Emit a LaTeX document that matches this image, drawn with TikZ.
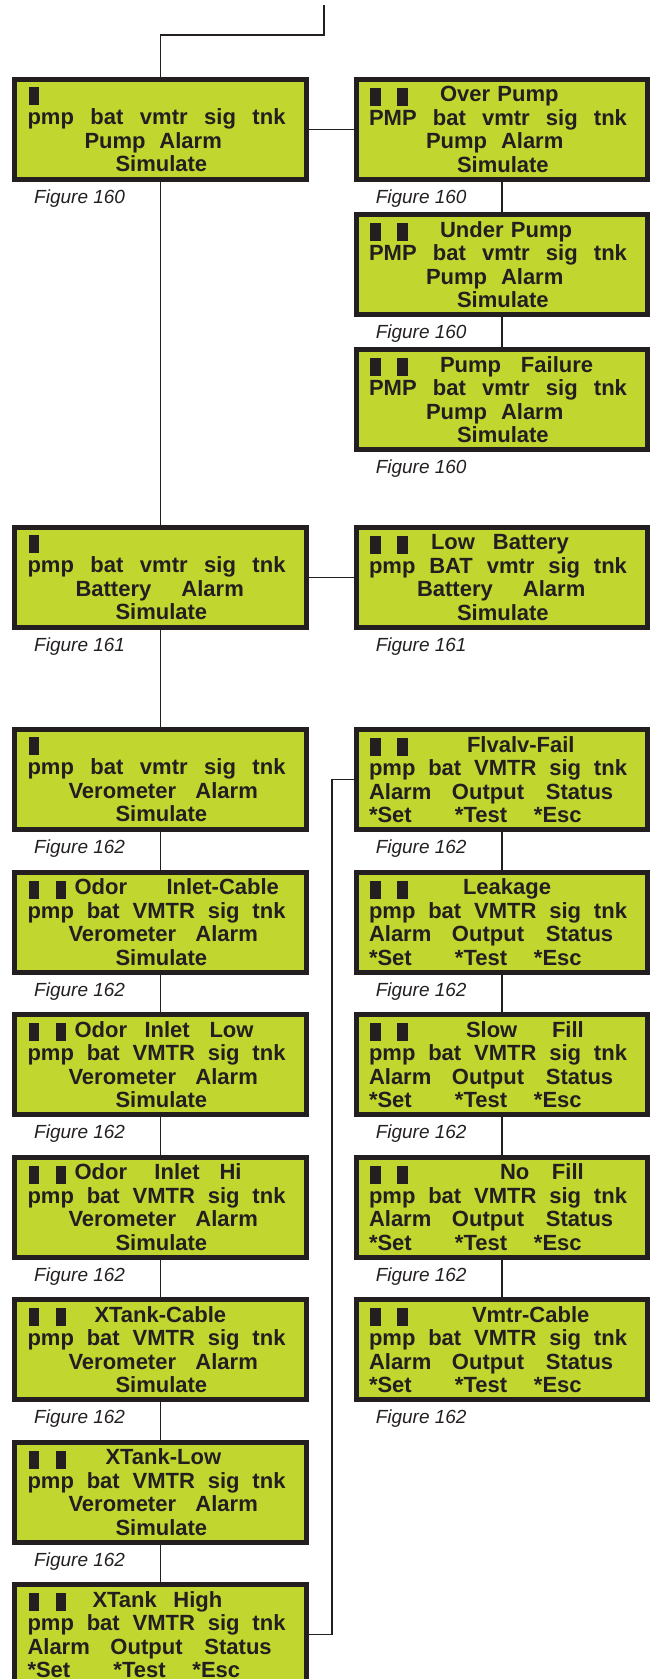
\documentclass[tikz,border=0pt]{standalone}
\usepackage{fontspec}
\setmainfont{Liberation Sans}
\usepackage{xcolor}
\usepackage{tikz}
\usetikzlibrary{positioning,calc}
\setlength{\parindent}{0pt}
\definecolor{lcdgreen}{RGB}{193,215,47}
\definecolor{lcdink}{RGB}{35,31,32}
\newcommand{\lcdpos}[2]{\makebox[0pt][l]{\hspace*{#1pt}#2}}
\newcommand{\lcdblk}{\rule[-4pt]{10.5pt}{18pt}}
\newcommand{\lcdcur}{\lcdpos{1}{\lcdblk}\lcdpos{28}{\lcdblk}}
\newcommand{\lcdrow}[5]{\makebox[258pt][s]{#1\hfill#2\hfill#3\hfill#4\hfill#5}}
\tikzset{
  lcd/.style={draw=lcdink, line width=5pt, fill=lcdgreen, text=lcdink, align=left, text width=266pt, inner xsep=12.75pt, inner ysep=2pt, minimum width=291.5pt, minimum height=100pt, font=\bfseries\fontsize{22}{23.5}\selectfont},
  figlbl/.style={inner sep=0pt, outer sep=0pt, text=lcdink, font=\itshape\fontsize{19}{22}\selectfont},
  wire/.style={draw=lcdink, line width=1.8pt},
}
\begin{document}
\begin{tikzpicture}[x=1pt,y=1pt]
  \useasboundingbox (0,0) rectangle (649,-1679);
  \coordinate (in) at (324,-5);
  % pump
  \node[lcd] (pa) at (160.5,-129.5) {\lcdpos{1}{\lcdblk}\\ \lcdrow{pmp}{bat}{vmtr}{sig}{tnk}\\ \lcdpos{57}{Pump}\lcdpos{132}{Alarm}\\ \lcdpos{88}{Simulate}};
  \node[lcd, right=45pt of pa] (op) {\lcdcur\lcdpos{71}{Over Pump}\\ \lcdrow{PMP}{bat}{vmtr}{sig}{tnk}\\ \lcdpos{57}{Pump}\lcdpos{132}{Alarm}\\ \lcdpos{88}{Simulate}};
  \node[lcd, below=30pt of op] (up) {\lcdcur\lcdpos{71}{Under Pump}\\ \lcdrow{PMP}{bat}{vmtr}{sig}{tnk}\\ \lcdpos{57}{Pump}\lcdpos{132}{Alarm}\\ \lcdpos{88}{Simulate}};
  \node[lcd, below=30pt of up] (pf) {\lcdcur\lcdpos{71}{Pump}\lcdpos{152}{Failure}\\ \lcdrow{PMP}{bat}{vmtr}{sig}{tnk}\\ \lcdpos{57}{Pump}\lcdpos{132}{Alarm}\\ \lcdpos{88}{Simulate}};
  % battery
  \node[lcd, below=343pt of pa] (ba) {\lcdpos{1}{\lcdblk}\\ \lcdrow{pmp}{bat}{vmtr}{sig}{tnk}\\ \lcdpos{48}{Battery}\lcdpos{154}{Alarm}\\ \lcdpos{88}{Simulate}};
  \node[lcd, right=45pt of ba] (lb) {\lcdcur\lcdpos{62}{Low}\lcdpos{124}{Battery}\\ \lcdrow{pmp}{BAT}{vmtr}{sig}{tnk}\\ \lcdpos{48}{Battery}\lcdpos{154}{Alarm}\\ \lcdpos{88}{Simulate}};
  % verometer
  \node[lcd, below=97pt of ba] (va) {\lcdpos{1}{\lcdblk}\\ \lcdrow{pmp}{bat}{vmtr}{sig}{tnk}\\ \lcdpos{41}{Verometer}\lcdpos{168}{Alarm}\\ \lcdpos{88}{Simulate}};
  \node[lcd, below=37.5pt of va] (oc) {\lcdcur\lcdpos{47}{Odor}\lcdpos{139}{Inlet-Cable}\\ \lcdrow{pmp}{bat}{VMTR}{sig}{tnk}\\ \lcdpos{41}{Verometer}\lcdpos{168}{Alarm}\\ \lcdpos{88}{Simulate}};
  \node[lcd, below=37.5pt of oc] (ol) {\lcdcur\lcdpos{47}{Odor}\lcdpos{117}{Inlet}\lcdpos{182}{Low}\\ \lcdrow{pmp}{bat}{VMTR}{sig}{tnk}\\ \lcdpos{41}{Verometer}\lcdpos{168}{Alarm}\\ \lcdpos{88}{Simulate}};
  \node[lcd, below=37.5pt of ol] (oh) {\lcdcur\lcdpos{47}{Odor}\lcdpos{127}{Inlet}\lcdpos{192}{Hi}\\ \lcdrow{pmp}{bat}{VMTR}{sig}{tnk}\\ \lcdpos{41}{Verometer}\lcdpos{168}{Alarm}\\ \lcdpos{88}{Simulate}};
  \node[lcd, below=37.5pt of oh] (xc) {\lcdcur\lcdpos{67}{XTank-Cable}\\ \lcdrow{pmp}{bat}{VMTR}{sig}{tnk}\\ \lcdpos{41}{Verometer}\lcdpos{168}{Alarm}\\ \lcdpos{88}{Simulate}};
  \node[lcd, below=37.5pt of xc] (xl) {\lcdcur\lcdpos{78}{XTank-Low}\\ \lcdrow{pmp}{bat}{VMTR}{sig}{tnk}\\ \lcdpos{41}{Verometer}\lcdpos{168}{Alarm}\\ \lcdpos{88}{Simulate}};
  \node[lcd, below=37.5pt of xl] (xh) {\lcdcur\lcdpos{65}{XTank}\lcdpos{146}{High}\\ \lcdrow{pmp}{bat}{VMTR}{sig}{tnk}\\ \lcdpos{0}{Alarm}\lcdpos{83}{Output}\lcdpos{177}{Status}\\ \lcdpos{0}{*Set}\lcdpos{86}{*Test}\lcdpos{165}{*Esc}};
  % output status
  \node[lcd, right=45pt of va] (ff) {\lcdcur\lcdpos{98}{Flvalv-Fail}\\ \lcdrow{pmp}{bat}{VMTR}{sig}{tnk}\\ \lcdpos{0}{Alarm}\lcdpos{83}{Output}\lcdpos{177}{Status}\\ \lcdpos{0}{*Set}\lcdpos{86}{*Test}\lcdpos{165}{*Esc}};
  \node[lcd, below=37.5pt of ff] (lk) {\lcdcur\lcdpos{94}{Leakage}\\ \lcdrow{pmp}{bat}{VMTR}{sig}{tnk}\\ \lcdpos{0}{Alarm}\lcdpos{83}{Output}\lcdpos{177}{Status}\\ \lcdpos{0}{*Set}\lcdpos{86}{*Test}\lcdpos{165}{*Esc}};
  \node[lcd, below=37.5pt of lk] (sf) {\lcdcur\lcdpos{97}{Slow}\lcdpos{183}{Fill}\\ \lcdrow{pmp}{bat}{VMTR}{sig}{tnk}\\ \lcdpos{0}{Alarm}\lcdpos{83}{Output}\lcdpos{177}{Status}\\ \lcdpos{0}{*Set}\lcdpos{86}{*Test}\lcdpos{165}{*Esc}};
  \node[lcd, below=37.5pt of sf] (nf) {\lcdcur\lcdpos{131}{No}\lcdpos{183}{Fill}\\ \lcdrow{pmp}{bat}{VMTR}{sig}{tnk}\\ \lcdpos{0}{Alarm}\lcdpos{83}{Output}\lcdpos{177}{Status}\\ \lcdpos{0}{*Set}\lcdpos{86}{*Test}\lcdpos{165}{*Esc}};
  \node[lcd, below=37.5pt of nf] (vc) {\lcdcur\lcdpos{103}{Vmtr-Cable}\\ \lcdrow{pmp}{bat}{VMTR}{sig}{tnk}\\ \lcdpos{0}{Alarm}\lcdpos{83}{Output}\lcdpos{177}{Status}\\ \lcdpos{0}{*Set}\lcdpos{86}{*Test}\lcdpos{165}{*Esc}};
  % figure labels
  \node[figlbl, below right=8pt and 22pt of pa.south west] (fpa) {Figure 160};
  \node[figlbl, below right=8pt and 22pt of op.south west] (fop) {Figure 160};
  \node[figlbl, below right=8pt and 22pt of up.south west] (fup) {Figure 160};
  \node[figlbl, below right=8pt and 22pt of pf.south west] (fpf) {Figure 160};
  \node[figlbl, below right=8pt and 22pt of ba.south west] (fba) {Figure 161};
  \node[figlbl, below right=8pt and 22pt of lb.south west] (flb) {Figure 161};
  \node[figlbl, below right=8pt and 22pt of va.south west] (fva) {Figure 162};
  \node[figlbl, below right=8pt and 22pt of oc.south west] (foc) {Figure 162};
  \node[figlbl, below right=8pt and 22pt of ol.south west] (fol) {Figure 162};
  \node[figlbl, below right=8pt and 22pt of oh.south west] (foh) {Figure 162};
  \node[figlbl, below right=8pt and 22pt of xc.south west] (fxc) {Figure 162};
  \node[figlbl, below right=8pt and 22pt of xl.south west] (fxl) {Figure 162};
  \node[figlbl, below right=8pt and 22pt of ff.south west] (fff) {Figure 162};
  \node[figlbl, below right=8pt and 22pt of lk.south west] (flk) {Figure 162};
  \node[figlbl, below right=8pt and 22pt of sf.south west] (fsf) {Figure 162};
  \node[figlbl, below right=8pt and 22pt of nf.south west] (fnf) {Figure 162};
  \node[figlbl, below right=8pt and 22pt of vc.south west] (fvc) {Figure 162};
  % wires
  \draw[wire] (in) -- ++(0,-30) -| (pa.north);
  \draw[wire] (pa.east) -- (op.west);
  \draw[wire] (op.south) -- (up.north);
  \draw[wire] (up.south) -- (pf.north);
  \draw[wire] (pa.south) -- (ba.north);
  \draw[wire] (ba.east) -- (lb.west);
  \draw[wire] (ba.south) -- (va.north);
  \draw[wire] (va.south) -- (oc.north);
  \draw[wire] (oc.south) -- (ol.north);
  \draw[wire] (ol.south) -- (oh.north);
  \draw[wire] (oh.south) -- (xc.north);
  \draw[wire] (xc.south) -- (xl.north);
  \draw[wire] (xl.south) -- (xh.north);
  \draw[wire] (ff.south) -- (lk.north);
  \draw[wire] (lk.south) -- (sf.north);
  \draw[wire] (sf.south) -- (nf.north);
  \draw[wire] (nf.south) -- (vc.north);
  \draw[wire] (xh.east) -- ++(23,0) |- (ff.west);
\end{tikzpicture}
\end{document}
